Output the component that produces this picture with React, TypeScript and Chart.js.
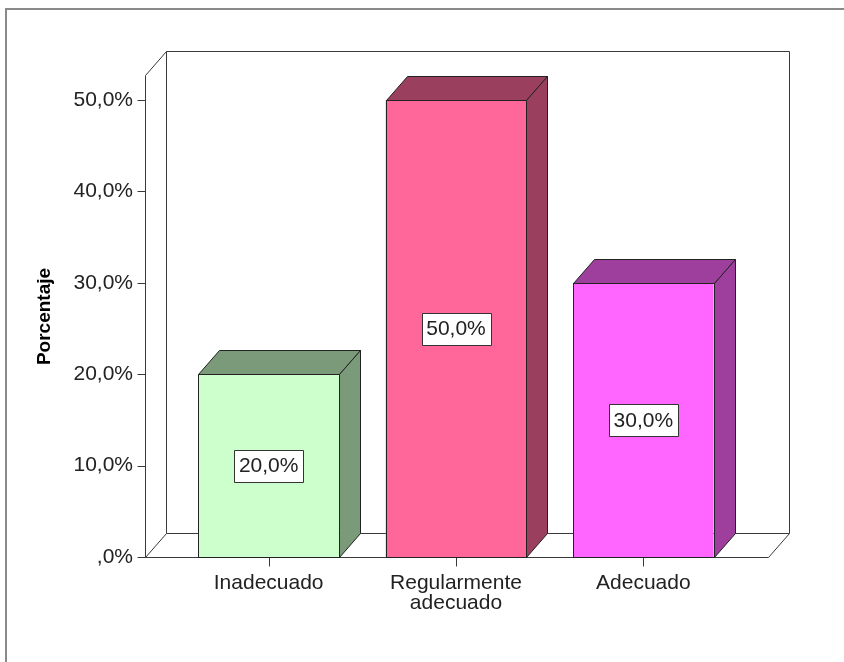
import React, { useEffect, useRef } from "react";
import { Chart, registerables } from "chart.js";

Chart.register(...registerables);

const categories: (string | string[])[] = ["Inadecuado", ["Regularmente", "adecuado"], "Adecuado"];
const percentages: number[] = [20, 50, 30];
const frontColors: string[] = ["#CCFFCC", "#FF6699", "#FF66FF"];
const sideColors: string[] = ["#7A9A7A", "#9B3F5E", "#9E3F9E"];
const yTicks: number[] = [0, 10, 20, 30, 40, 50];
const axisTitle = "Porcentaje";

const FONT = "'Liberation Sans', Arial, sans-serif";

function fmt(v: number): string {
  if (v === 0) return ",0%";
  return v.toFixed(1).replace(".", ",") + "%";
}

const DX = 21;
const DY = -24;

const box3d = {
  id: "box3d",
  beforeDraw(chart: any) {
    const ctx = chart.ctx;
    ctx.save();
    ctx.fillStyle = "#ffffff";
    ctx.fillRect(0, 0, chart.width, chart.height);
    ctx.strokeStyle = "#8a8a8a";
    ctx.lineWidth = 2;
    ctx.beginPath();
    ctx.moveTo(6, chart.height + 5);
    ctx.lineTo(6, 9);
    ctx.lineTo(chart.width + 5, 9);
    ctx.stroke();
    ctx.restore();
  },
  beforeDatasetsDraw(chart: any) {
    const ctx = chart.ctx;
    const { left, right, top, bottom } = chart.chartArea;
    const ys = chart.scales.y;
    const xs = chart.scales.x;
    const fl = left - 30 + 0.5;
    const fr = right + 31 + 0.5;
    const fb = Math.round(bottom) + 0.5;
    const ft = Math.round(top) - 25 + 0.5;
    ctx.save();
    ctx.strokeStyle = "#3a3a3a";
    ctx.lineWidth = 1;
    ctx.beginPath();
    // back wall
    ctx.moveTo(fl + DX, fb + DY);
    ctx.lineTo(fl + DX, ft + DY);
    ctx.lineTo(fr + DX, ft + DY);
    ctx.lineTo(fr + DX, fb + DY);
    ctx.lineTo(fl + DX, fb + DY);
    // left wall
    ctx.moveTo(fl, fb);
    ctx.lineTo(fl, ft);
    ctx.lineTo(fl + DX, ft + DY);
    // floor
    ctx.moveTo(fl, fb);
    ctx.lineTo(fr, fb);
    ctx.lineTo(fr + DX, fb + DY);
    ctx.moveTo(fl, fb);
    ctx.lineTo(fl + DX, fb + DY);
    // y ticks
    yTicks.forEach((v) => {
      const py = Math.round(ys.getPixelForValue(v)) + 0.5;
      ctx.moveTo(fl - 8, py);
      ctx.lineTo(fl, py);
    });
    // x ticks
    categories.forEach((_, i) => {
      const px = Math.round(xs.getPixelForValue(i)) + 0.5;
      ctx.moveTo(px, fb);
      ctx.lineTo(px, fb + 9);
    });
    ctx.stroke();

    // axis title
    ctx.fillStyle = "#000000";
    ctx.font = `bold 19px ${FONT}`;
    ctx.textAlign = "center";
    ctx.textBaseline = "middle";
    ctx.translate(45, (ft + fb) / 2);
    ctx.rotate(-Math.PI / 2);
    ctx.fillText(axisTitle, 0, 0);
    ctx.restore();
  },
  afterDatasetsDraw(chart: any) {
    const ctx = chart.ctx;
    const meta = chart.getDatasetMeta(0);
    ctx.save();
    ctx.lineWidth = 1;
    ctx.strokeStyle = "#222222";
    ctx.lineJoin = "round";
    meta.data.forEach((bar: any, i: number) => {
      const l = Math.round(bar.x - bar.width / 2) + 0.5;
      const r = Math.round(bar.x + bar.width / 2) + 0.5;
      const t = Math.round(bar.y) + 0.5;
      const b = Math.round(bar.base) + 0.5;
      // top face
      ctx.fillStyle = sideColors[i];
      ctx.beginPath();
      ctx.moveTo(l, t);
      ctx.lineTo(l + DX, t + DY);
      ctx.lineTo(r + DX, t + DY);
      ctx.lineTo(r, t);
      ctx.closePath();
      ctx.fill();
      ctx.stroke();
      // side face
      ctx.beginPath();
      ctx.moveTo(r, t);
      ctx.lineTo(r + DX, t + DY);
      ctx.lineTo(r + DX, b + DY);
      ctx.lineTo(r, b);
      ctx.closePath();
      ctx.fill();
      ctx.stroke();
      // front outline
      ctx.strokeRect(l, t, r - l, b - t);
    });
    // value labels
    ctx.font = `21px ${FONT}`;
    ctx.textAlign = "center";
    ctx.textBaseline = "middle";
    meta.data.forEach((bar: any, i: number) => {
      const txt = fmt(percentages[i]);
      const w = ctx.measureText(txt).width + 9;
      const h = 32;
      const cx = bar.x;
      const cy = (bar.y + bar.base) / 2;
      const bx = Math.round(cx - w / 2) + 0.5;
      const by = Math.round(cy - h / 2) + 0.5;
      ctx.fillStyle = "#ffffff";
      ctx.fillRect(bx, by, Math.round(w), h);
      ctx.strokeStyle = "#333333";
      ctx.strokeRect(bx, by, Math.round(w), h);
      ctx.fillStyle = "#222222";
      ctx.fillText(txt, cx, cy + 1);
    });
    ctx.restore();
  },
};

export default function App() {
  const ref = useRef<HTMLCanvasElement | null>(null);
  useEffect(() => {
    document.body.style.margin = "0";
    const canvas = ref.current;
    if (!canvas) return;
    const chart = new Chart(canvas, {
      type: "bar",
      data: {
        labels: categories,
        datasets: [
          {
            data: percentages,
            backgroundColor: frontColors,
            borderWidth: 0,
            barPercentage: 0.75,
            categoryPercentage: 1,
          },
        ],
      },
      options: {
        animation: false,
        responsive: false,
        maintainAspectRatio: false,
        layout: { padding: { left: 37, right: 107, top: 100, bottom: 35 } },
        plugins: { legend: { display: false }, tooltip: { enabled: false } },
        scales: {
          x: {
            grid: { display: false, drawTicks: false },
            border: { display: false },
            ticks: {
              color: "#222222",
              font: { family: FONT, size: 21, lineHeight: "20px" as any },
              padding: 16,
              maxRotation: 0,
              autoSkip: false,
            },
            afterFit: (s: any) => {
              s.height = 70;
            },
          },
          y: {
            min: 0,
            max: 50,
            grid: { display: false, drawTicks: false },
            border: { display: false },
            ticks: {
              stepSize: 10,
              color: "#222222",
              font: { family: FONT, size: 21 },
              padding: 42,
              callback: (v: any) => fmt(Number(v)),
            },
            afterFit: (s: any) => {
              s.width = 138;
            },
          },
        },
      },
      plugins: [box3d],
    });
    return () => chart.destroy();
  }, []);
  return (
    <div style={{ width: 844, height: 662 }}>
      <canvas ref={ref} width={844} height={662} style={{ display: "block", width: 844, height: 662 }} />
    </div>
  );
}
